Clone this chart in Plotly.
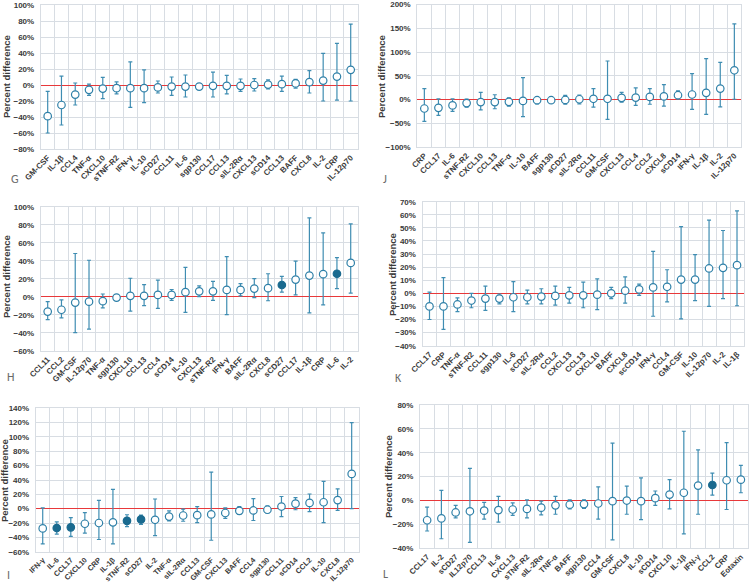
import plotly.graph_objects as go

# ---------------- DATA ----------------
# Panel G
g_cats = ["GM-CSF", "IL-1β", "CCL4", "TNF-α", "CXCL10", "sTNF-R2", "IFN-γ", "IL-10", "sCD27", "CCL11",
          "IL-6", "sgp130", "CCL17", "CCL13", "sIL-2Rα", "CXCL13", "sCD14", "CCL13", "BAFF", "CXCL8",
          "IL-2", "CRP", "IL-12p70"]
g_val = [-39, -25, -12, -6, -4.5, -4, -4, -4, -3, -2, -2, -2, -1, -1, -1, 0, 0.5, 1, 2, 3.5, 5.5, 10.5, 19]
g_hi = [-8, 11, 2.5, 1, 9.5, 4, 29, 19, 5, 10, 12.5, 1, 16, 12, 7.5, 8, 6.5, 11, 7, 18, 39.5, 52, 76]
g_lo = [-60, -50, -25, -13, -17, -11, -28, -22, -10, -13, -15, -5, -15, -11, -8, -7.5, -5, -8, -4, -10, -20, -19, -20]
g_sig = [False] * 23

# Panel J
j_cats = ["CRP", "CCL17", "IL-6", "sTNF-R2", "CXCL10", "CCL13", "TNF-α", "IL-10", "BAFF", "sgp130",
          "sCD27", "sIL-2Rα", "CCL11", "GM-CSF", "CXCL13", "CCL4", "CCL2", "CXCL8", "sCD14", "IFN-γ",
          "IL-1β", "IL-2", "IL-12p70"]
j_val = [-19, -17.5, -12.5, -7.5, -5.5, -5.5, -5, -3, -1.5, -1.5, -1, 0.5, 1.5, 1.5, 3.5, 4, 5.5, 6.5, 9, 10.5, 14, 23, 61.5]
j_hi = [23, 1.5, 1.5, 1, 15, 10, 3.5, 46, 3.5, 2, 8.5, 9, 23, 81, 15, 24.5, 23, 31.5, 18, 54.5, 86, 78, 159]
j_lo = [-46, -33.5, -25, -16, -22, -19.5, -14, -36, -9, -5.5, -10, -9, -16, -42, -5.5, -12.5, -10, -14, 1.5, -21, -31.5, -15.5, 0.5]
j_sig = [False] * 23

# Panel H
h_cats = ["CCL11", "CCL2", "GM-CSF", "IL-12p70", "TNF-α", "sgp130", "CXCL10", "CCL13", "CCL4", "sCD14",
          "IL-10", "CXCL13", "sTNF-R2", "IFN-γ", "BAFF", "sIL-2Rα", "CXCL8", "sCD27", "CCL17", "IL-1β",
          "CRP", "IL-6", "IL-2"]
h_val = [-16.5, -14.5, -6.5, -5.5, -5, -1, 1, 1, 2, 2, 5, 6, 6, 7.5, 7.5, 9, 9.5, 13, 19, 23.5, 25, 25.5, 37.5]
h_hi = [-5.5, -3.5, 48, 40.5, 3, 2, 20.5, 13.5, 18.5, 8, 32.5, 12, 17, 44.5, 14.5, 20, 25.5, 22.5, 39.5, 87.5, 71, 43.5, 81]
h_lo = [-25.5, -23.5, -40, -36, -12.5, -4, -16, -10, -13, -4, -17.5, 0, -4, -20, 1, -1, -4.5, 5, 2, -18, -9, 9, 4]
h_sig = [False] * 17 + [True] + [False] * 3 + [True, False]

# Panel K
k_cats = ["CCL17", "CRP", "TNF-α", "sTNF-R2", "CCL11", "sgp130", "IL-6", "sCD27", "sIL-2Rα", "CCL2",
          "CXCL13", "CCL13", "CXCL10", "BAFF", "CXCL8", "scCD14", "IFN-γ", "CCL4", "GM-CSF", "IL-10",
          "IL-12p70", "IL-2", "IL-1β"]
k_val = [-10, -10, -8.5, -5.5, -4, -4, -3, -3, -2.5, -2, -1.5, -1.5, -1, 0, 2, 3, 4.5, 5, 10.5, 10.5, 19, 19.5, 21.5]
k_hi = [1, 12, -3.5, 0, 5.5, -0.5, 9, 2.5, 3.5, 5.5, 4.5, 8.5, 11, 4.5, 12.5, 7, 32, 18, 51, 29.5, 56, 48, 63]
k_lo = [-20, -27.5, -14, -11, -13, -8, -14, -8, -8, -9, -7.5, -11, -12.5, -4, -7.5, -1.5, -17.5, -6.5, -19.5, -5.5, -10, -4, -9.5]
k_sig = [False] * 23

# Panel I
i_cats = ["IFN-γ", "IL-6", "CCL17", "CXCL10", "CRP", "IL-1β", "sTNF-R2", "sCD27", "IL-2", "TNF-α",
          "sIL-2Rα", "CCL13", "GM-CSF", "CXCL13", "BAFF", "CCL4", "sgp130", "CCL11", "sCD14", "CCL2",
          "IL-10", "CXCL8", "IL-12p70"]
i_val = [-27.5, -27, -26, -21, -20, -19, -17, -15, -15.5, -11, -9.5, -9, -8, -6, -3, -2.5, -1.5, 3, 7, 8, 9, 12, 48.5]
i_hi = [1, -18.5, -12.5, -5.5, 11.5, 27, -8.5, -9, 13.5, -3, -0.5, 3, 51, 1, 3, 14, 4, 17, 15.5, 20.5, 38, 27.5, 120]
i_lo = [-49, -35.5, -38.5, -34, -43, -49, -25, -22, -37.5, -17, -17.5, -19.5, -44, -13.5, -8, -16.5, -6, -11, -1.5, -4, -19.5, -2.5, 0]
i_sig = [False, True, True, False, False, False, True, True] + [False] * 15

# Panel L
l_cats = ["CCL17", "IL-2", "sCD27", "IL12p70", "CCL13", "IL-6", "CXCL13", "sTNF-R2", "sIL-2Rα", "TNF-α",
          "BAFF", "sgp130", "CCL4", "GM-CSF", "CXCL8", "IL-10", "sCD14", "CXCL10", "IL-1β", "IFN-γ",
          "CCL2", "CRP", "Eotaxin"]
l_val = [-16.5, -15, -10, -9, -8.5, -8, -7.5, -7, -6, -4, -3.5, -3, -2.5, -0.5, 0, -0.5, 2, 5, 6.5, 12.5, 13, 17, 17.5]
l_hi = [-5.5, 8.5, -4, 27, -1.5, 3.5, -2, 0.5, -0.5, 3.5, 0.5, 0.5, 11.5, 48, 12, 19, 8, 17.5, 58, 42.5, 23, 48.5, 29.5]
l_lo = [-25.5, -32, -14.5, -35, -15.5, -18, -12.5, -14.5, -12, -11.5, -7, -6.5, -15.5, -33, -11.5, -16, -4, -7, -28, -11.5, 4.5, -7.5, 6.5]
l_sig = [False] * 20 + [True, False, False]

# ---------------- STYLE / LAYOUT ----------------
W, H = 749, 584
FONT = "Liberation Sans, Arial, sans-serif"
GRID = "#d8dde3"
TXT = "#3a3a3a"
BAR = "#3f8db2"
EDGE = "#2f80a8"
FILL = "#1a6a8f"

panels = [
    # cats, val, hi, lo, sig, (left, right, top, bottom px), (ymin, ymax, dtick), letter, letter pos, title pos, xfont
    (g_cats, g_val, g_hi, g_lo, g_sig, (40.8, 357.6, 5, 149), (-80, 100, 20), "G", (9, 179), (6, 77), 8),
    (j_cats, j_val, j_hi, j_lo, j_sig, (417.3, 741.4, 4.5, 147), (-100, 200, 50), "J", (381, 179), (381, 77), 8),
    (h_cats, h_val, h_hi, h_lo, h_sig, (40.8, 357.6, 206.7, 350.7), (-60, 100, 20), "H", (5, 377), (6, 277), 8),
    (k_cats, k_val, k_hi, k_lo, k_sig, (422.5, 744, 201.7, 345.7), (-40, 70, 10), "K", (393, 378), (393, 275), 8),
    (i_cats, i_val, i_hi, i_lo, i_sig, (35.7, 358.7, 408.3, 551.7), (-60, 140, 20), "I", (5, 575), (4, 481), 7.4),
    (l_cats, l_val, l_hi, l_lo, l_sig, (420, 748, 405, 548.3), (-40, 80, 20), "L", (381, 574), (388, 477), 7.8),
]

fig = go.Figure()
annotations = []
for k, (cats, val, hi, lo, sig, box, yr, letter, lpos, tpos, xfs) in enumerate(panels, start=1):
    n = len(cats)
    xs = list(range(n))
    xa = "x" if k == 1 else f"x{k}"
    ya = "y" if k == 1 else f"y{k}"
    fig.add_trace(go.Scatter(
        x=xs, y=val, mode="markers", xaxis=xa, yaxis=ya, showlegend=False,
        error_y=dict(type="data", symmetric=False,
                     array=[h - v for h, v in zip(hi, val)],
                     arrayminus=[v - l for v, l in zip(val, lo)],
                     color=BAR, thickness=1.2, width=2),
        marker=dict(symbol="circle", size=7.5,
                    color=[FILL if s else "white" for s in sig],
                    line=dict(color=[FILL if s else EDGE for s in sig], width=1.2)),
    ))
    left, right, top, bottom = box
    xkey = "xaxis" if k == 1 else f"xaxis{k}"
    ykey = "yaxis" if k == 1 else f"yaxis{k}"
    fig.layout[xkey] = dict(
        domain=[left / W, right / W], anchor=ya, range=[-0.5, n - 0.5],
        tickmode="array", tickvals=xs, ticktext=cats, tickangle=-45,
        tickfont=dict(family=FONT, size=xfs, color=TXT, weight="bold"),
        showgrid=False, zeroline=False, showline=True, mirror=True, linecolor=GRID, linewidth=1,
        ticks="", automargin=False, ticklabeloverflow="allow",
        minor=dict(tickmode="array", tickvals=[i + 0.5 for i in range(-1, n)],
                   showgrid=True, gridcolor=GRID, gridwidth=1, ticks=""),
        fixedrange=True,
    )
    ymin, ymax, dt = yr
    fig.layout[ykey] = dict(
        domain=[1 - bottom / H, 1 - top / H], anchor=xa, range=[ymin, ymax],
        tick0=ymin, dtick=dt, ticksuffix="%",
        tickfont=dict(family=FONT, size=8, color=TXT, weight="bold"),
        showgrid=True, gridcolor=GRID, gridwidth=1,
        zeroline=True, zerolinecolor="#e8383a", zerolinewidth=1.4,
        showline=True, mirror=True, linecolor=GRID, linewidth=1,
        ticks="", ticklabelstandoff=4, fixedrange=True, automargin=False,
        ticklabeloverflow="allow",
    )
    annotations.append(dict(x=lpos[0] / W, y=1 - lpos[1] / H, xref="paper", yref="paper",
                            text=letter, showarrow=False, xanchor="left", yanchor="middle",
                            font=dict(family="Carlito, Liberation Sans, sans-serif", size=12, color="#6a6a6a")))
    annotations.append(dict(x=tpos[0] / W, y=1 - tpos[1] / H, xref="paper", yref="paper",
                            text="Percent difference", textangle=-90, showarrow=False,
                            xanchor="center", yanchor="middle",
                            font=dict(family=FONT, size=9.5, color=TXT, weight="bold")))

fig.update_layout(width=W, height=H, margin=dict(l=0, r=0, t=0, b=0, autoexpand=False),
                  paper_bgcolor="white", plot_bgcolor="white",
                  annotations=annotations)
fig.write_html("out.html", config={"displayModeBar": False},
               post_script="document.body.style.margin='0';document.body.style.overflow='hidden';")
